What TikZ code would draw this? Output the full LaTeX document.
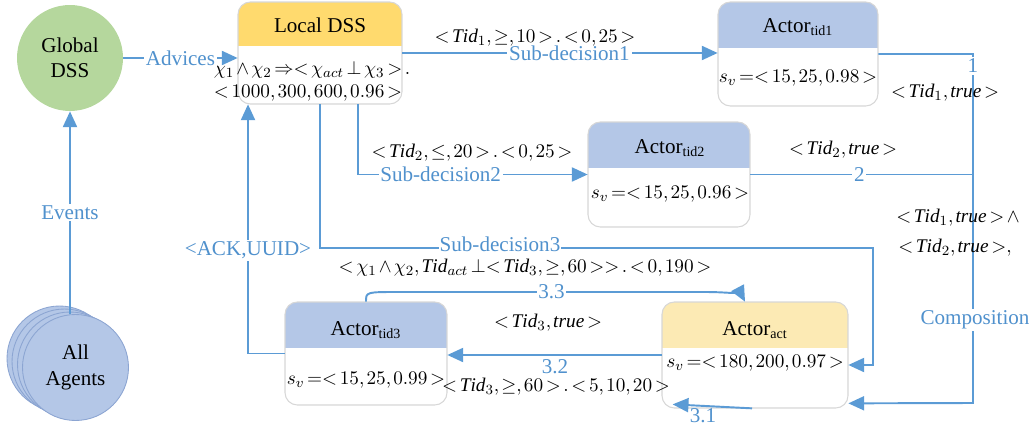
\documentclass[tikz,border=0pt,12pt]{standalone}
\usepackage{fontspec}
\setmainfont{Liberation Serif}
\usetikzlibrary{arrows.meta,fit,calc}
\definecolor{lineblue}{RGB}{91,155,213}
\definecolor{labblue}{RGB}{80,145,205}
\definecolor{greenc}{RGB}{181,215,157}
\definecolor{agentblue}{RGB}{180,199,231}
\definecolor{agentedge}{RGB}{140,165,210}
\definecolor{yellowh}{RGB}{255,218,110}
\definecolor{lightyellowh}{RGB}{252,234,180}
\definecolor{blueh}{RGB}{180,199,231}
\definecolor{boxedge}{RGB}{215,215,215}
\newcommand\actorbox[7]{%
  \begin{scope}
   \clip[rounded corners=7pt] (#2,#3) rectangle (#4,#5);
   \fill[white] (#2,#3) rectangle (#4,#5);
   \fill[#7] (#2,#3) rectangle (#4,#6);
  \end{scope}
  \draw[boxedge,line width=0.6pt,rounded corners=7pt] (#2,#3) rectangle (#4,#5);
  \node[fit={(#2,#3) (#4,#5)},inner sep=0pt] (#1) {};
}
\newcommand\mth[1]{{\fontsize{11}{13}\selectfont$\thickmuskip=2.5mu plus 1mu\medmuskip=2mu\thinmuskip=2mu #1$}}
\begin{document}
\begin{tikzpicture}[x=0.02cm,y=-0.02cm,
 conn/.style={draw=lineblue,line width=1.1pt},
 arr/.style={conn,-{Triangle[length=9pt,width=8pt]}},
 blab/.style={text=labblue,fill=white,inner sep=1pt},
 blabnf/.style={text=labblue,inner sep=1pt},
 mlab/.style={inner sep=1pt},
 circ/.style={circle,inner sep=0pt,align=center,minimum size=2.12cm},
]
\useasboundingbox (0,0) rectangle (1034,429);

% circles
\node[circ,fill=greenc] (global) at (70,58) {Global\\DSS};
\foreach \dx/\dy in {-16/-9,-11/-6,-5.5/-3}{
  \fill[agentblue] (75.5+\dx,367.5+\dy) circle (1.05cm);
  \draw[agentedge,line width=0.5pt] (75.5+\dx,367.5+\dy) circle (1.05cm);
}
\node[circ,fill=agentblue,draw=agentedge,line width=0.5pt] (agents) at (75.5,367.5) {All\\Agents};

% boxes
\actorbox{local}{238}{2}{402}{104}{46}{yellowh}
\actorbox{tida}{718}{2}{878}{106}{48}{blueh}
\actorbox{tidb}{588}{122}{750}{227}{168}{blueh}
\actorbox{tidc}{285}{302}{447}{405}{348}{blueh}
\actorbox{act}{662}{302}{848}{408}{348}{lightyellowh}

\node (localT) at (320,25) {Local DSS};
\node (localA) at (312,70) {\mth{\chi_1\wedge\chi_2\Rightarrow<\chi_{act}\perp\chi_3>.}};
\node (localB) at (308,93) {\mth{<1000,300,600,0.96>}};
\node (tidaT) at (798,27) {Actor\textsubscript{tid1}};
\node (tidaB) at (798,78) {\mth{s_v=<15,25,0.98>}};
\node (tidbT) at (670,148) {Actor\textsubscript{tid2}};
\node (tidbB) at (670,194) {\mth{s_v=<15,25,0.96>}};
\node (tidcT) at (366,330) {Actor\textsubscript{tid3}};
\node (tidcB) at (366,380) {\mth{s_v=<15,25,0.99>}};
\node (actT) at (755,330) {Actor\textsubscript{act}};
\node (actB) at (755,363) {\mth{s_v=<180,200,0.97>}};

% coordinates
\coordinate (cbot) at (973,403);
\coordinate (sdc) at (873,248);

% connectors
\draw[arr] (agents.north -| global.south) -- node[blab,pos=0.5]{Events} (global.south);
\draw[arr] (global.east) -- node[blab]{Advices} (global.east -| local.west);
\draw[arr] (local.east) -- node[blab,pos=0.53]{Sub-decision1} (local.east -| tida.west);
\draw[arr] ([xshift=0.76cm]local.south) |- node[blab,pos=0.68]{Sub-decision2} (tidb.west);
\draw[arr] (local.south) |- (sdc) |- ([yshift=-0.2cm]act.east);
\node[blab,inner sep=0.5pt] (sd3) at (500,244) {Sub-decision3};
\draw[arr] (tidc.west) -| node[blab,pos=0.707]{<ACK,UUID>} ([xshift=-1.44cm]local.south);
\draw[arr] (tida.east) -| (cbot) -- ([yshift=0.1cm]act.south east);
\draw[conn] (tidb.east) -- node[blab,pos=0.49]{2} (tidb.east -| cbot);
\node[blab] (one) at (973,66) {1};
\node[blab] (comp) at (975,320) {Composition};
\draw[arr] (tidc.north) .. controls (366,292) .. (398,292) -- node[blab]{3.3} (705,292)
  .. controls (735,292) and (742,296) .. ([xshift=-0.2cm]act.north);
\draw[arr] (act.west) -- (act.west -| tidc.east);
\draw[arr] ([xshift=-0.06cm]act.south) -- ([xshift=0.22cm,yshift=0.08cm]act.south west);

% labels
\node[mlab] (la1) at (535,38) {\mth{<\mathit{Tid}_1,\geq,10>.<0,25>}};
\node[mlab] (la2) at (945,93) {\mth{<\mathit{Tid}_1,\mathit{true}>}};
\node[mlab] (la3) at (472,153) {\mth{<\mathit{Tid}_2,\leq,20>.<0,25>}};
\node[mlab] (la4) at (843,150) {\mth{<\mathit{Tid}_2,\mathit{true}>}};
\node[mlab] (la5) at (958,218) {\mth{<\mathit{Tid}_1,\mathit{true}>\wedge}};
\node[mlab] (la6) at (955,248) {\mth{<\mathit{Tid}_2,\mathit{true}>,}};
\node[mlab] (la7) at (525,268) {\mth{<\chi_1\wedge\chi_2,\mathit{Tid}_{act}\perp<\mathit{Tid}_3,\geq,60>>.<0,190>}};
\node[mlab] (la8) at (548,323) {\mth{<\mathit{Tid}_3,\mathit{true}>}};
\node[blabnf] (l32) at (555,367) {3.2};
\node[mlab] (la9) at (556,387) {\mth{<\mathit{Tid}_3,\geq,60>.<5,10,20>}};
\node[blabnf] (l31) at (703,416) {3.1};
\end{tikzpicture}
\end{document}
